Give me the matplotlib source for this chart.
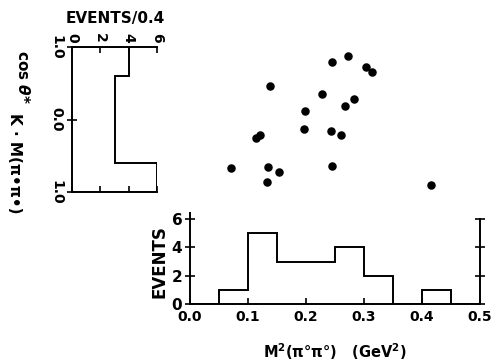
import numpy as np
import matplotlib
matplotlib.use("Agg")
import matplotlib.pyplot as plt

plt.rcParams['font.family'] = ['DejaVu Sans']
plt.rcParams['font.weight'] = 'bold'

# scatter: M^2(pi0 pi0) vs cos theta*
mass2 = [0.244, 0.273, 0.303, 0.313, 0.138, 0.228, 0.282, 0.268, 0.198, 0.197,
         0.243, 0.260, 0.113, 0.120, 0.070, 0.134, 0.153, 0.133, 0.244, 0.416]
costh = [0.79, 0.87, 0.73, 0.66, 0.46, 0.35, 0.28, 0.18, 0.12, -0.13,
         -0.16, -0.22, -0.25, -0.21, -0.67, -0.65, -0.73, -0.86, -0.64, -0.90]

# bottom histogram (bins of 0.05 GeV^2)
m_edges = [0.0, 0.05, 0.1, 0.15, 0.2, 0.25, 0.3, 0.35, 0.4, 0.45, 0.5]
m_counts = [0, 1, 5, 3, 3, 4, 2, 0, 1, 0]
m_ticks = [0.0, 0.1, 0.2, 0.3, 0.4, 0.5]
m_ticklabels = ['0.0', '0.1', '0.2', '0.3', '0.4', '0.5']
ev_ticks = [0, 2, 4, 6]

# left histogram (bins of 0.4 in cos)
c_edges = [-1.0, -0.6, -0.2, 0.2, 0.6, 1.0]
c_counts = [6, 3, 3, 3, 4]
c_ticks = [-1.0, 0.0, 1.0]
c_ticklabels = ['1.0', '0.0', '1.0']

W, H = 492, 364
fig = plt.figure(figsize=(W / 100, H / 100), dpi=100)


def fx(x):
    return x / W


def fy(y):
    return 1 - y / H


lw = 1.4

# scatter panel
ax_s = fig.add_axes([fx(190), fy(192), fx(480) - fx(190), fy(47) - fy(192)])
ax_s.scatter(mass2, costh, s=26, color='black', zorder=3)
ax_s.set_xlim(0, 0.5)
ax_s.set_ylim(-1, 1)
ax_s.axis('off')

# bottom histogram
ax_b = fig.add_axes([fx(190), fy(304), fx(480) - fx(190), fy(219) - fy(304)])
ax_b.stairs(m_counts, m_edges, color='black', linewidth=lw, baseline=0)
ax_b.set_xlim(0, 0.5)
ax_b.set_ylim(0, 6)
ax_b.spines['top'].set_visible(False)
for s in ['left', 'right', 'bottom']:
    ax_b.spines[s].set_linewidth(lw)
ax_b.spines['left'].set_bounds(0, 6.4)
ax_b.set_xticks(m_ticks)
ax_b.set_xticklabels(m_ticklabels, fontsize=10)
ax_b.set_yticks(ev_ticks)
ax_b.set_yticklabels([str(v) for v in ev_ticks], fontsize=11)
ax_b.tick_params(axis='x', direction='in', length=4, width=1.2, pad=4)
ax_b.tick_params(axis='y', direction='inout', length=7, width=1.2, right=True, pad=2)
ax_b.set_ylabel('EVENTS', fontsize=12, fontweight='bold', labelpad=2)
ax_b.set_xlabel(r'M$^\mathbf{2}$(π°π°)   (GeV$^\mathbf{2}$)', fontsize=10.5,
                fontweight='bold', labelpad=13)

# left histogram (rotated)
ax_l = fig.add_axes([fx(72), fy(192), fx(157) - fx(72), fy(47) - fy(192)])
ax_l.stairs(c_counts, c_edges, orientation='horizontal', color='black',
            linewidth=lw, baseline=0)
ax_l.set_xlim(0, 6)
ax_l.set_ylim(-1, 1)
ax_l.spines['right'].set_visible(False)
for s in ['left', 'top', 'bottom']:
    ax_l.spines[s].set_linewidth(lw)
ax_l.set_xticks(ev_ticks)
ax_l.set_xticklabels([str(v) for v in ev_ticks], fontsize=10, rotation=-90)
ax_l.tick_params(axis='x', direction='in', length=4, width=1.2, top=True,
                 bottom=True, labeltop=True, labelbottom=False, pad=3)
ax_l.set_yticks(c_ticks)
ax_l.set_yticklabels(c_ticklabels, fontsize=10, rotation=-90, va='center')
ax_l.tick_params(axis='y', direction='inout', length=7, width=1.2, pad=3)

fig.text(fx(115), fy(19), 'EVENTS/0.4', fontsize=11, fontweight='bold',
         ha='center', va='center')
fig.text(fx(23), fy(50), r'cos $\boldsymbol{\theta}$*', fontsize=11, fontweight='bold',
         rotation=-90, rotation_mode='anchor', ha='left', va='center')
fig.text(fx(14), fy(113), 'K · M(π•π•)', fontsize=11, fontweight='bold',
         rotation=-90, rotation_mode='anchor', ha='left', va='center')

fig.savefig('out.png', dpi=100)
